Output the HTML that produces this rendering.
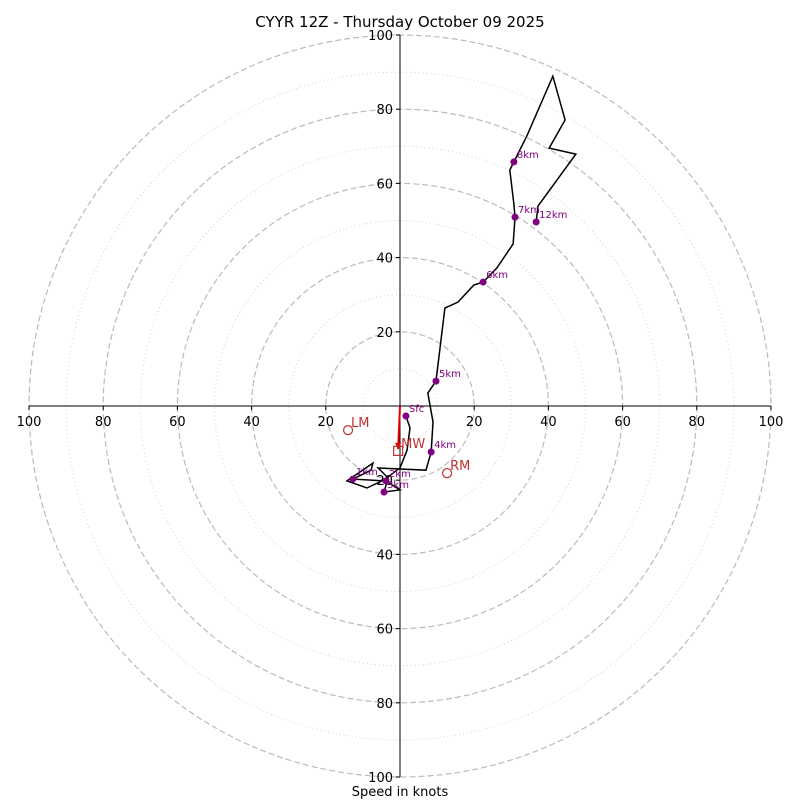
<!DOCTYPE html>
<html><head><meta charset="utf-8"><style>
html,body{margin:0;padding:0;background:#fff;}
svg{display:block;font-family:"DejaVu Sans","Liberation Sans",sans-serif;}
</style></head><body>
<svg id="chart" width="800" height="800" viewBox="0 0 800 800">
<text x="400" y="27" text-anchor="middle" font-size="15">CYYR 12Z - Thursday October 09 2025</text>
<g id="grid"></g>
<g id="axes"></g>
<g id="trace"></g>
<g id="marks"></g>
<text x="400" y="796" text-anchor="middle" font-size="13">Speed in knots</text>
</svg>
<script>
const ringSpeeds=[10,20,30,40,50,60,70,80,90,100];
const tickValues=[20,40,60,80,100];
const traceU=[1.6,2.7,1.9,0,-4.3,-8.9,-14.3,-9.2,-7.3,-7.8,-12.7,-3.8,0,-4.3,-3.2,-5.9,7.0,8.4,8.9,7.5,9.7,12.1,15.6,19.9,22.4,26.1,30.5,31.0,30.7,29.6,30.7,34.2,41.2,44.5,40.2,47.4,37.2,36.7];
const traceV=[-2.7,-5.9,-11.9,-16.7,-19.9,-22.1,-20.2,-16.7,-15.4,-17.3,-19.7,-20.2,-22.6,-23.2,-19.4,-16.7,-17.3,-12.4,-4.3,3.5,6.7,26.4,28.0,32.6,33.4,37.2,43.7,50.9,54.4,63.6,65.8,72.8,88.9,77.1,69.5,67.9,53.9,49.6];
const levelLabels=["Sfc","1km","2km","3km","4km","5km","6km","7km","8km","12km"];
const levelU=[1.6,-12.7,-3.8,-4.3,8.4,9.7,22.4,31.0,30.7,36.7];
const levelV=[-2.7,-19.7,-20.2,-23.2,-12.4,6.7,33.4,50.9,65.8,49.6];
const motionNames=["LM","RM","MW"];
const motionU=[-14.0,12.7,-0.5];
const motionV=[-6.5,-18.1,-12.1];

const CX=400,CY=406,R=371,MAX=100;
const sx=u=>CX+u*R/MAX, sy=v=>CY-v*R/MAX;
const NS="http://www.w3.org/2000/svg";
function mk(tag,parent,attrs){const e=document.createElementNS(NS,tag);for(const k in attrs)e.setAttribute(k,attrs[k]);parent.appendChild(e);return e;}
const grid=document.getElementById('grid'),axes=document.getElementById('axes'),trace=document.getElementById('trace'),marks=document.getElementById('marks');
ringSpeeds.forEach(s=>{
  const major=s%20===0;
  const c=mk('circle',grid,{cx:CX,cy:CY,r:s*R/MAX,fill:'none',stroke:major?'#bbbbbb':'#cccccc','stroke-width':major?1.2:0.9,'stroke-dasharray':major?'6,3':'1,3'});
  
  
});
let l=mk('line',axes,{x1:sx(-MAX),y1:CY,x2:sx(MAX),y2:CY,stroke:'#000','stroke-width':1});


l=mk('line',axes,{x1:CX,y1:sy(MAX),x2:CX,y2:sy(-MAX),stroke:'#000','stroke-width':1});


tickValues.forEach(t=>{
  [t,-t].forEach(u=>{
    mk('line',axes,{x1:sx(u),y1:CY,x2:sx(u),y2:CY+4,stroke:'#000'});
    const tx=mk('text',axes,{x:sx(u),y:CY+20,'text-anchor':'middle','font-size':13});
    tx.textContent=t;
    
    
    mk('line',axes,{x1:CX-4,y1:sy(u),x2:CX,y2:sy(u),stroke:'#000'});
    const ty=mk('text',axes,{x:CX-7,y:sy(u)+5,'text-anchor':'end','font-size':13});
    ty.textContent=t;
    
    
  });
});
const pts=traceU.map((u,i)=>sx(u)+','+sy(traceV[i])).join(' ');
const pl=mk('polyline',trace,{points:pts,fill:'none',stroke:'#000','stroke-width':1.5,'stroke-linejoin':'miter'});


levelLabels.forEach((lab,i)=>{
  const c=mk('circle',trace,{cx:sx(levelU[i]),cy:sy(levelV[i]),r:3.5,fill:'#800080'});
  
  
  const t=mk('text',trace,{x:sx(levelU[i])+3,y:sy(levelV[i])-4,'font-size':10,fill:'#800080'});
  t.textContent=lab;
  
  
});
const mw=2;
const ar=mk('line',marks,{x1:CX,y1:CY,x2:sx(motionU[mw]),y2:sy(motionV[mw])-2,stroke:'#e00000','stroke-width':2});


mk('polygon',marks,{points:(sx(motionU[mw])-3)+','+(sy(motionV[mw])-8)+' '+(sx(motionU[mw])+3)+','+(sy(motionV[mw])-8)+' '+sx(motionU[mw])+','+(sy(motionV[mw])-1),fill:'#e00000'});
motionNames.forEach((n,i)=>{
  const x=sx(motionU[i]),y=sy(motionV[i]);
  let m;
  if(n==='MW') m=mk('rect',marks,{x:x-4.5,y:y-4.5,width:9,height:9,fill:'none',stroke:'#c03030','stroke-width':1.2});
  else m=mk('circle',marks,{cx:x,cy:y,r:4.5,fill:'none',stroke:'#c03030','stroke-width':1.2});
  
  
  const t=mk('text',marks,{x:x+3,y:y-3,'font-size':13,fill:'#c03030'});
  t.textContent=n;
  
  
});
</script>
</body></html>
